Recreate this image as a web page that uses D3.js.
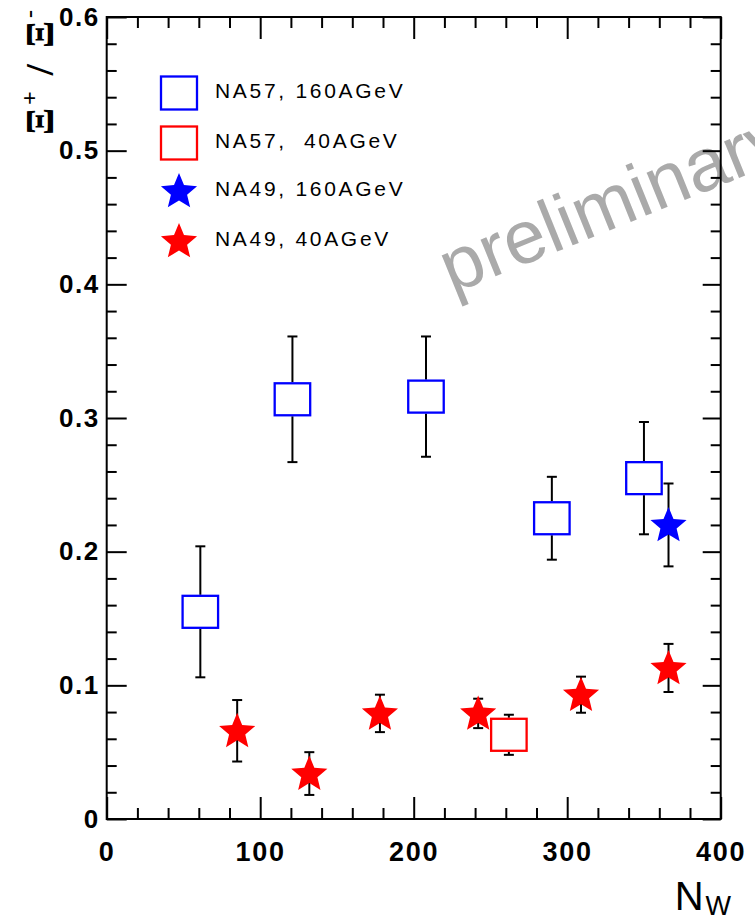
<!DOCTYPE html>
<html>
<head>
<meta charset="utf-8">
<script src="https://cdn.jsdelivr.net/npm/d3@7"></script>
<style>
  html, body { margin: 0; padding: 0; background: #fff; }
  svg { display: block; }
</style>
</head>
<body>
<svg id="chart" width="755" height="920"></svg>
<script>
// ---------------- data ----------------
const na57_160_x   = [61, 121, 208, 290, 350];
const na57_160_y   = [0.155, 0.314, 0.316, 0.225, 0.255];
const na57_160_err = [0.049, 0.047, 0.045, 0.031, 0.042];

const na57_40_x   = [262];
const na57_40_y   = [0.063];
const na57_40_err = [0.015];

const na49_160_x   = [366];
const na49_160_y   = [0.220];
const na49_160_err = [0.031];

const na49_40_x   = [85, 132, 178, 242, 309, 366];
const na49_40_y   = [0.066, 0.034, 0.079, 0.079, 0.093, 0.113];
const na49_40_err = [0.023, 0.016, 0.014, 0.011, 0.0135, 0.018];

const xTickLabels = [0, 100, 200, 300, 400];
const yTickLabels = [0, 0.1, 0.2, 0.3, 0.4, 0.5, 0.6];
const legendLabels = ["NA57, 160AGeV", "NA57,  40AGeV", "NA49, 160AGeV", "NA49, 40AGeV"];
const watermark = "preliminary";

// ---------------- layout ----------------
const svg = d3.select("#chart");
const L = 106.7, R = 720.7, T = 17, B = 819;
const x = d3.scaleLinear().domain([0, 400]).range([L, R]);
const y = d3.scaleLinear().domain([0, 0.6]).range([B, T]);

const BLUE = "#0000ff", RED = "#ff0000";

// watermark (runs off the right edge, as in the reference)
svg.append("text")
  .attr("transform", "translate(452,294) rotate(-22)")
  .attr("font-family", "Liberation Sans, Arial, sans-serif")
  .attr("font-size", 75)
  .attr("fill", "#aaaaaa")
  .text(watermark);

// ---------------- axes ----------------
const xMinor = d3.range(0, 401, 20).filter(v => v % 100 !== 0);
const yMinor = d3.range(0, 31).map(i => i * 0.02).filter((v, i) => i % 5 !== 0);

const tickStyle = g => {
  g.select(".domain").remove();
  g.selectAll(".tick line").attr("stroke", "#000").attr("stroke-width", 2);
};

// bottom
svg.append("g").attr("transform", `translate(0,${B})`)
  .call(d3.axisBottom(x).tickValues(xTickLabels).tickSize(-22).tickPadding(23).tickFormat(d3.format("d")))
  .call(tickStyle)
  .call(g => g.selectAll("text")
    .attr("font-family", "Liberation Sans, Arial, sans-serif")
    .attr("font-size", 27).attr("font-weight", "bold").attr("letter-spacing", 1.8)
    .attr("fill", "#000"));
svg.append("g").attr("transform", `translate(0,${B})`)
  .call(d3.axisBottom(x).tickValues(xMinor).tickSize(-11).tickFormat(""))
  .call(tickStyle);
// top
svg.append("g").attr("transform", `translate(0,${T})`)
  .call(d3.axisTop(x).tickValues(xTickLabels).tickSize(-22).tickFormat(""))
  .call(tickStyle);
svg.append("g").attr("transform", `translate(0,${T})`)
  .call(d3.axisTop(x).tickValues(xMinor).tickSize(-11).tickFormat(""))
  .call(tickStyle);
// left
svg.append("g").attr("transform", `translate(${L},0)`)
  .call(d3.axisLeft(y).tickValues(yTickLabels).tickSize(-20).tickPadding(7)
    .tickFormat(d => d === 0 ? "0" : d3.format(".1f")(d)))
  .call(tickStyle)
  .call(g => g.selectAll("text")
    .attr("font-family", "Liberation Sans, Arial, sans-serif")
    .attr("font-size", 26).attr("font-weight", "bold").attr("letter-spacing", 1.5)
    .attr("fill", "#000"));
svg.append("g").attr("transform", `translate(${L},0)`)
  .call(d3.axisLeft(y).tickValues(yMinor).tickSize(-10).tickFormat(""))
  .call(tickStyle);
// right
svg.append("g").attr("transform", `translate(${R},0)`)
  .call(d3.axisRight(y).tickValues(yTickLabels).tickSize(-18).tickFormat(""))
  .call(tickStyle);
svg.append("g").attr("transform", `translate(${R},0)`)
  .call(d3.axisRight(y).tickValues(yMinor).tickSize(-10).tickFormat(""))
  .call(tickStyle);

// frame
svg.append("rect")
  .attr("x", L).attr("y", T).attr("width", R - L).attr("height", B - T)
  .attr("fill", "none").attr("stroke", "#000").attr("stroke-width", 2);

// axis titles
const xt = svg.append("text")
  .attr("x", 731).attr("y", 910).attr("text-anchor", "end")
  .attr("font-family", "Liberation Sans, Arial, sans-serif")
  .attr("font-size", 40).attr("fill", "#000");
xt.append("tspan").text("N");
xt.append("tspan").attr("font-size", 27).attr("dy", 5).attr("dx", 2).text("W");

const yt = svg.append("text")
  .attr("transform", "translate(53,135) rotate(-90)")
  .attr("font-family", "Liberation Serif, Times New Roman, serif")
  .attr("font-weight", "bold")
  .attr("letter-spacing", 3)
  .attr("font-size", 40).attr("fill", "#000");
yt.append("tspan").text("Ξ");
yt.append("tspan").attr("font-size", 24).attr("dy", -16).text("+");
yt.append("tspan").attr("dy", 16).text(" / ");
yt.append("tspan").text("Ξ");
yt.append("tspan").attr("font-size", 24).attr("dy", -16).text("-");

// ---------------- markers ----------------
const SQW = 35.5, SQH = 32;
const starPath = (ro, ri) => {
  const pts = [];
  for (let i = 0; i < 10; i++) {
    const r = i % 2 === 0 ? ro : ri;
    const a = -Math.PI / 2 + i * Math.PI / 5;
    pts.push([r * Math.cos(a), r * Math.sin(a)]);
  }
  return d3.line()(pts) + "Z";
};
const STAR = starPath(19, 8.5);

function errBars(xs, ys, es, gap) {
  const g = svg.append("g").attr("stroke", "#000").attr("stroke-width", 2).attr("fill", "none");
  xs.forEach((xv, i) => {
    const cx = x(xv), cy = y(ys[i]);
    const yh = y(ys[i] + es[i]), yl = y(ys[i] - es[i]);
    if (gap > 0) {
      if (cy - gap > yh) g.append("line").attr("x1", cx).attr("x2", cx).attr("y1", yh).attr("y2", cy - gap);
      if (cy + gap < yl) g.append("line").attr("x1", cx).attr("x2", cx).attr("y1", cy + gap).attr("y2", yl);
    } else {
      g.append("line").attr("x1", cx).attr("x2", cx).attr("y1", yh).attr("y2", yl);
    }
    g.append("line").attr("x1", cx - 5).attr("x2", cx + 5).attr("y1", yh).attr("y2", yh);
    g.append("line").attr("x1", cx - 5).attr("x2", cx + 5).attr("y1", yl).attr("y2", yl);
  });
}
function squares(xs, ys, color) {
  svg.append("g").selectAll("rect").data(xs).join("rect")
    .attr("x", d => x(d) - SQW / 2)
    .attr("y", (d, i) => y(ys[i]) - SQH / 2)
    .attr("width", SQW).attr("height", SQH)
    .attr("fill", "none").attr("stroke", color).attr("stroke-width", 2.3);
}
function stars(xs, ys, color) {
  svg.append("g").selectAll("path").data(xs).join("path")
    .attr("transform", (d, i) => `translate(${x(d)},${y(ys[i]) + 1})`)
    .attr("d", STAR).attr("fill", color);
}

errBars(na57_160_x, na57_160_y, na57_160_err, SQH / 2 + 1);
squares(na57_160_x, na57_160_y, BLUE);
errBars(na57_40_x, na57_40_y, na57_40_err, SQH / 2 + 1);
squares(na57_40_x, na57_40_y, RED);
errBars(na49_160_x, na49_160_y, na49_160_err, 0);
stars(na49_160_x, na49_160_y, BLUE);
errBars(na49_40_x, na49_40_y, na49_40_err, 0);
stars(na49_40_x, na49_40_y, RED);

// ---------------- legend ----------------
const legendY = [93, 143, 191, 241];
const legendKinds = ["square", "square", "star", "star"];
const legendColors = [BLUE, RED, BLUE, RED];
const lg = svg.append("g");
legendLabels.forEach((lab, i) => {
  if (legendKinds[i] === "square") {
    lg.append("rect").attr("x", 179 - 18).attr("y", legendY[i] - 16.5)
      .attr("width", 36).attr("height", 33)
      .attr("fill", "none").attr("stroke", legendColors[i]).attr("stroke-width", 2.3);
  } else {
    lg.append("path").attr("transform", `translate(179,${legendY[i] + 1})`)
      .attr("d", STAR).attr("fill", legendColors[i]);
  }
  lg.append("text").attr("x", 215).attr("y", legendY[i] + 5)
    .attr("font-family", "Liberation Sans, Arial, sans-serif")
    .attr("font-size", 21).attr("letter-spacing", 2.7)
    .attr("fill", "#000")
    .style("white-space", "pre")
    .text(lab);
});
</script>
</body>
</html>
